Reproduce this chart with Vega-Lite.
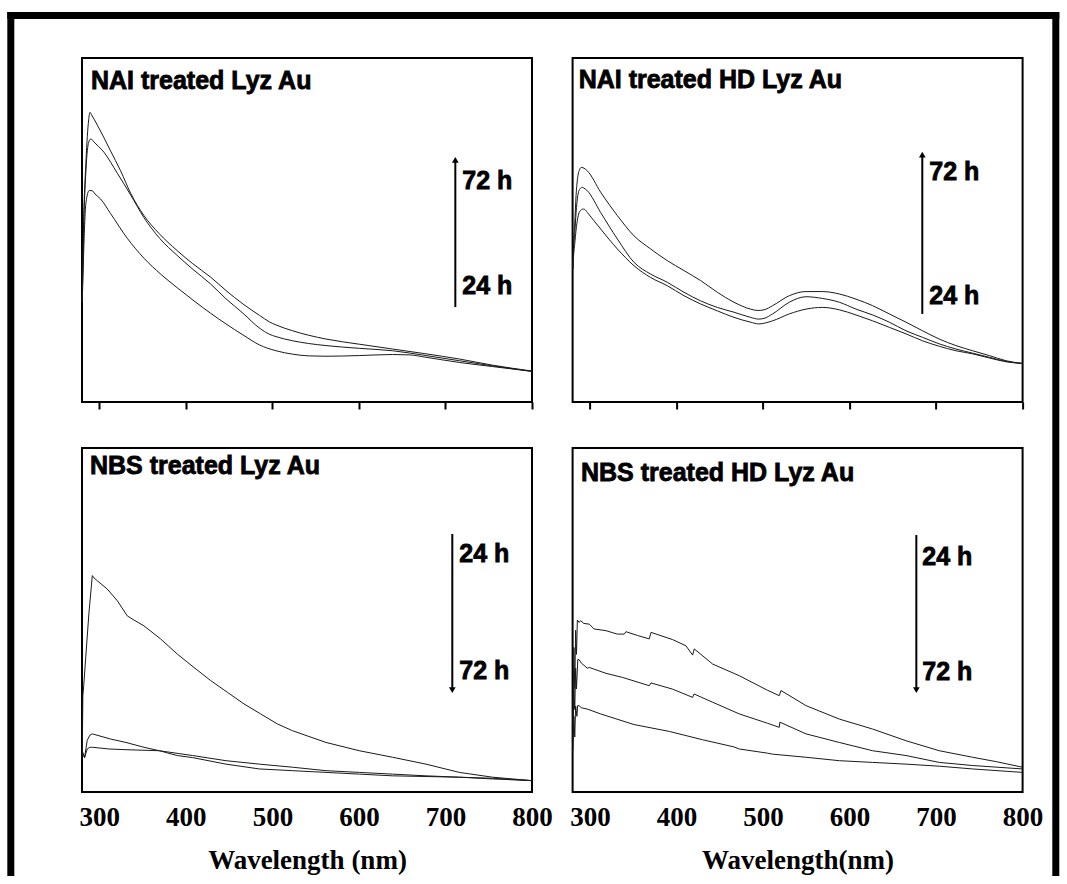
{
  "$schema": "https://vega.github.io/schema/vega-lite/v6.json",
  "background": "white",
  "padding": {"left": 2, "top": 7, "right": 0, "bottom": 0},
  "autosize": {"type": "pad"},
  "config": {
    "view": {"stroke": "black", "strokeWidth": 2},
    "axis": {"grid": false, "domain": false, "labelFlush": false, "labelOverlap": false},
    "text": {"font": "Liberation Sans", "fontWeight": "bold", "fontSize": 25, "color": "black", "stroke": "black", "strokeWidth": 0.8}
  },
  "datasets": {
    "p1": [
      {"wl":280.3,"a":0.29,"t":"72 h"},{"wl":281.5,"a":0.48,"t":"72 h"},{"wl":284.6,"a":0.70,"t":"72 h"},{"wl":287.7,"a":0.82,"t":"72 h"},{"wl":289.2,"a":0.842,"t":"72 h"},{"wl":291,"a":0.835,"t":"72 h"},{"wl":297.7,"a":0.805,"t":"72 h"},{"wl":305,"a":0.77,"t":"72 h"},{"wl":313,"a":0.73,"t":"72 h"},{"wl":324.6,"a":0.672,"t":"72 h"},{"wl":336.2,"a":0.607,"t":"72 h"},{"wl":351.6,"a":0.542,"t":"72 h"},{"wl":369,"a":0.49,"t":"72 h"},{"wl":390,"a":0.44,"t":"72 h"},{"wl":408,"a":0.402,"t":"72 h"},{"wl":428.6,"a":0.363,"t":"72 h"},{"wl":446.4,"a":0.324,"t":"72 h"},{"wl":466,"a":0.285,"t":"72 h"},{"wl":485,"a":0.252,"t":"72 h"},{"wl":496.5,"a":0.233,"t":"72 h"},{"wl":504.2,"a":0.224,"t":"72 h"},{"wl":523.4,"a":0.207,"t":"72 h"},{"wl":542,"a":0.194,"t":"72 h"},{"wl":562,"a":0.183,"t":"72 h"},{"wl":600.4,"a":0.168,"t":"72 h"},{"wl":638.9,"a":0.154,"t":"72 h"},{"wl":677.5,"a":0.14,"t":"72 h"},{"wl":716,"a":0.125,"t":"72 h"},{"wl":754.5,"a":0.107,"t":"72 h"},{"wl":800,"a":0.09,"t":"72 h"},
      {"wl":280.3,"a":0.29,"t":"48 h"},{"wl":281.5,"a":0.46,"t":"48 h"},{"wl":284.6,"a":0.675,"t":"48 h"},{"wl":287.7,"a":0.755,"t":"48 h"},{"wl":290.4,"a":0.765,"t":"48 h"},{"wl":293,"a":0.758,"t":"48 h"},{"wl":305.4,"a":0.726,"t":"48 h"},{"wl":320.8,"a":0.665,"t":"48 h"},{"wl":336.2,"a":0.602,"t":"48 h"},{"wl":351.6,"a":0.536,"t":"48 h"},{"wl":370,"a":0.475,"t":"48 h"},{"wl":390,"a":0.426,"t":"48 h"},{"wl":408,"a":0.386,"t":"48 h"},{"wl":428.6,"a":0.343,"t":"48 h"},{"wl":446.4,"a":0.3,"t":"48 h"},{"wl":466,"a":0.258,"t":"48 h"},{"wl":485,"a":0.215,"t":"48 h"},{"wl":496.5,"a":0.197,"t":"48 h"},{"wl":504.2,"a":0.19,"t":"48 h"},{"wl":523.4,"a":0.178,"t":"48 h"},{"wl":542,"a":0.17,"t":"48 h"},{"wl":562,"a":0.164,"t":"48 h"},{"wl":600.4,"a":0.156,"t":"48 h"},{"wl":638.9,"a":0.149,"t":"48 h"},{"wl":677.5,"a":0.135,"t":"48 h"},{"wl":716,"a":0.12,"t":"48 h"},{"wl":754.5,"a":0.105,"t":"48 h"},{"wl":800,"a":0.089,"t":"48 h"},
      {"wl":280.3,"a":0.29,"t":"24 h"},{"wl":281.5,"a":0.4,"t":"24 h"},{"wl":284.6,"a":0.58,"t":"24 h"},{"wl":288.5,"a":0.615,"t":"24 h"},{"wl":291.9,"a":0.614,"t":"24 h"},{"wl":295,"a":0.605,"t":"24 h"},{"wl":301.5,"a":0.59,"t":"24 h"},{"wl":313,"a":0.548,"t":"24 h"},{"wl":332.3,"a":0.476,"t":"24 h"},{"wl":351.6,"a":0.418,"t":"24 h"},{"wl":370.8,"a":0.372,"t":"24 h"},{"wl":390.1,"a":0.332,"t":"24 h"},{"wl":409.4,"a":0.294,"t":"24 h"},{"wl":428.6,"a":0.258,"t":"24 h"},{"wl":446.4,"a":0.227,"t":"24 h"},{"wl":466,"a":0.195,"t":"24 h"},{"wl":485,"a":0.166,"t":"24 h"},{"wl":504.2,"a":0.149,"t":"24 h"},{"wl":523.4,"a":0.139,"t":"24 h"},{"wl":542.7,"a":0.134,"t":"24 h"},{"wl":562,"a":0.133,"t":"24 h"},{"wl":600.4,"a":0.135,"t":"24 h"},{"wl":638.9,"a":0.138,"t":"24 h"},{"wl":658.2,"a":0.137,"t":"24 h"},{"wl":677.5,"a":0.13,"t":"24 h"},{"wl":716,"a":0.115,"t":"24 h"},{"wl":754.5,"a":0.103,"t":"24 h"},{"wl":800,"a":0.089,"t":"24 h"}
    ],
    "p2": [
      {"wl":280.3,"a":0.387,"t":"72 h"},{"wl":281,"a":0.46,"t":"72 h"},{"wl":282.5,"a":0.52,"t":"72 h"},{"wl":284,"a":0.6,"t":"72 h"},{"wl":286,"a":0.655,"t":"72 h"},{"wl":288,"a":0.675,"t":"72 h"},{"wl":290.1,"a":0.682,"t":"72 h"},{"wl":292,"a":0.681,"t":"72 h"},{"wl":297,"a":0.672,"t":"72 h"},{"wl":312.4,"a":0.61,"t":"72 h"},{"wl":331.7,"a":0.542,"t":"72 h"},{"wl":351,"a":0.483,"t":"72 h"},{"wl":370.1,"a":0.445,"t":"72 h"},{"wl":389.4,"a":0.411,"t":"72 h"},{"wl":408.7,"a":0.382,"t":"72 h"},{"wl":427.9,"a":0.353,"t":"72 h"},{"wl":447.2,"a":0.319,"t":"72 h"},{"wl":466.5,"a":0.29,"t":"72 h"},{"wl":485.7,"a":0.27,"t":"72 h"},{"wl":494,"a":0.266,"t":"72 h"},{"wl":501.2,"a":0.268,"t":"72 h"},{"wl":511.1,"a":0.28,"t":"72 h"},{"wl":530.4,"a":0.309,"t":"72 h"},{"wl":549.7,"a":0.321,"t":"72 h"},{"wl":568.9,"a":0.321,"t":"72 h"},{"wl":588.2,"a":0.314,"t":"72 h"},{"wl":607.5,"a":0.299,"t":"72 h"},{"wl":626.7,"a":0.28,"t":"72 h"},{"wl":646,"a":0.256,"t":"72 h"},{"wl":665.3,"a":0.232,"t":"72 h"},{"wl":684.4,"a":0.207,"t":"72 h"},{"wl":703.7,"a":0.183,"t":"72 h"},{"wl":723,"a":0.164,"t":"72 h"},{"wl":742.2,"a":0.149,"t":"72 h"},{"wl":761.5,"a":0.135,"t":"72 h"},{"wl":780.8,"a":0.12,"t":"72 h"},{"wl":800,"a":0.112,"t":"72 h"},
      {"wl":280.3,"a":0.387,"t":"48 h"},{"wl":281,"a":0.44,"t":"48 h"},{"wl":282.5,"a":0.49,"t":"48 h"},{"wl":284,"a":0.55,"t":"48 h"},{"wl":286,"a":0.6,"t":"48 h"},{"wl":288,"a":0.618,"t":"48 h"},{"wl":291.2,"a":0.624,"t":"48 h"},{"wl":293,"a":0.622,"t":"48 h"},{"wl":297,"a":0.614,"t":"48 h"},{"wl":312.4,"a":0.551,"t":"48 h"},{"wl":331.7,"a":0.474,"t":"48 h"},{"wl":351,"a":0.406,"t":"48 h"},{"wl":370.1,"a":0.372,"t":"48 h"},{"wl":389.4,"a":0.348,"t":"48 h"},{"wl":408.7,"a":0.319,"t":"48 h"},{"wl":427.9,"a":0.294,"t":"48 h"},{"wl":447.2,"a":0.275,"t":"48 h"},{"wl":466.5,"a":0.261,"t":"48 h"},{"wl":485.7,"a":0.246,"t":"48 h"},{"wl":495,"a":0.241,"t":"48 h"},{"wl":501.2,"a":0.243,"t":"48 h"},{"wl":511.1,"a":0.256,"t":"48 h"},{"wl":530.4,"a":0.29,"t":"48 h"},{"wl":549.7,"a":0.306,"t":"48 h"},{"wl":568.9,"a":0.301,"t":"48 h"},{"wl":588.2,"a":0.29,"t":"48 h"},{"wl":607.5,"a":0.27,"t":"48 h"},{"wl":626.7,"a":0.253,"t":"48 h"},{"wl":646,"a":0.232,"t":"48 h"},{"wl":665.3,"a":0.207,"t":"48 h"},{"wl":684.4,"a":0.188,"t":"48 h"},{"wl":703.7,"a":0.169,"t":"48 h"},{"wl":723,"a":0.154,"t":"48 h"},{"wl":742.2,"a":0.142,"t":"48 h"},{"wl":761.5,"a":0.13,"t":"48 h"},{"wl":780.8,"a":0.118,"t":"48 h"},{"wl":800,"a":0.112,"t":"48 h"},
      {"wl":280.3,"a":0.387,"t":"24 h"},{"wl":281,"a":0.42,"t":"24 h"},{"wl":282.5,"a":0.46,"t":"24 h"},{"wl":284,"a":0.5,"t":"24 h"},{"wl":286,"a":0.535,"t":"24 h"},{"wl":288,"a":0.553,"t":"24 h"},{"wl":292.4,"a":0.561,"t":"24 h"},{"wl":294,"a":0.56,"t":"24 h"},{"wl":297,"a":0.551,"t":"24 h"},{"wl":312.4,"a":0.503,"t":"24 h"},{"wl":331.7,"a":0.445,"t":"24 h"},{"wl":351,"a":0.396,"t":"24 h"},{"wl":370.1,"a":0.362,"t":"24 h"},{"wl":389.4,"a":0.338,"t":"24 h"},{"wl":408.7,"a":0.309,"t":"24 h"},{"wl":427.9,"a":0.285,"t":"24 h"},{"wl":447.2,"a":0.265,"t":"24 h"},{"wl":466.5,"a":0.246,"t":"24 h"},{"wl":485.7,"a":0.232,"t":"24 h"},{"wl":495,"a":0.227,"t":"24 h"},{"wl":511.1,"a":0.236,"t":"24 h"},{"wl":530.4,"a":0.256,"t":"24 h"},{"wl":549.7,"a":0.27,"t":"24 h"},{"wl":568.9,"a":0.275,"t":"24 h"},{"wl":588.2,"a":0.268,"t":"24 h"},{"wl":607.5,"a":0.253,"t":"24 h"},{"wl":626.7,"a":0.236,"t":"24 h"},{"wl":646,"a":0.217,"t":"24 h"},{"wl":665.3,"a":0.198,"t":"24 h"},{"wl":684.4,"a":0.178,"t":"24 h"},{"wl":703.7,"a":0.162,"t":"24 h"},{"wl":723,"a":0.149,"t":"24 h"},{"wl":742.2,"a":0.14,"t":"24 h"},{"wl":761.5,"a":0.128,"t":"24 h"},{"wl":780.8,"a":0.117,"t":"24 h"},{"wl":800,"a":0.112,"t":"24 h"}
    ],
    "p3": [
      {"wl":280.3,"a":0.1,"t":"24 h"},{"wl":281,"a":0.28,"t":"24 h"},{"wl":282,"a":0.31,"t":"24 h"},{"wl":284.2,"a":0.387,"t":"24 h"},{"wl":288,"a":0.52,"t":"24 h"},{"wl":291.9,"a":0.629,"t":"24 h"},{"wl":294,"a":0.622,"t":"24 h"},{"wl":297.7,"a":0.614,"t":"24 h"},{"wl":309.2,"a":0.59,"t":"24 h"},{"wl":320.8,"a":0.556,"t":"24 h"},{"wl":332.3,"a":0.512,"t":"24 h"},{"wl":340,"a":0.5,"t":"24 h"},{"wl":351.6,"a":0.483,"t":"24 h"},{"wl":370.8,"a":0.445,"t":"24 h"},{"wl":390.1,"a":0.401,"t":"24 h"},{"wl":409.4,"a":0.362,"t":"24 h"},{"wl":428.6,"a":0.324,"t":"24 h"},{"wl":447.9,"a":0.29,"t":"24 h"},{"wl":467.2,"a":0.256,"t":"24 h"},{"wl":486.4,"a":0.227,"t":"24 h"},{"wl":505.7,"a":0.198,"t":"24 h"},{"wl":523.4,"a":0.178,"t":"24 h"},{"wl":562,"a":0.144,"t":"24 h"},{"wl":600.4,"a":0.12,"t":"24 h"},{"wl":638.9,"a":0.101,"t":"24 h"},{"wl":677.5,"a":0.081,"t":"24 h"},{"wl":716,"a":0.057,"t":"24 h"},{"wl":754.5,"a":0.043,"t":"24 h"},{"wl":800,"a":0.033,"t":"24 h"},
      {"wl":280.3,"a":0.12,"t":"48 h"},{"wl":283,"a":0.1,"t":"48 h"},{"wl":286,"a":0.15,"t":"48 h"},{"wl":289,"a":0.165,"t":"48 h"},{"wl":291.9,"a":0.169,"t":"48 h"},{"wl":313,"a":0.154,"t":"48 h"},{"wl":330.8,"a":0.144,"t":"48 h"},{"wl":351.6,"a":0.13,"t":"48 h"},{"wl":369.3,"a":0.12,"t":"48 h"},{"wl":390.1,"a":0.106,"t":"48 h"},{"wl":407.8,"a":0.1,"t":"48 h"},{"wl":446.4,"a":0.081,"t":"48 h"},{"wl":484.9,"a":0.067,"t":"48 h"},{"wl":523.4,"a":0.062,"t":"48 h"},{"wl":562,"a":0.057,"t":"48 h"},{"wl":600.4,"a":0.052,"t":"48 h"},{"wl":638.9,"a":0.047,"t":"48 h"},{"wl":677.5,"a":0.045,"t":"48 h"},{"wl":716,"a":0.043,"t":"48 h"},{"wl":754.5,"a":0.04,"t":"48 h"},{"wl":800,"a":0.033,"t":"48 h"},
      {"wl":280.3,"a":0.11,"t":"72 h"},{"wl":283,"a":0.1,"t":"72 h"},{"wl":286,"a":0.125,"t":"72 h"},{"wl":289,"a":0.13,"t":"72 h"},{"wl":291.9,"a":0.13,"t":"72 h"},{"wl":311.5,"a":0.125,"t":"72 h"},{"wl":330.8,"a":0.123,"t":"72 h"},{"wl":369.3,"a":0.12,"t":"72 h"},{"wl":407.8,"a":0.106,"t":"72 h"},{"wl":446.4,"a":0.091,"t":"72 h"},{"wl":484.9,"a":0.081,"t":"72 h"},{"wl":523.4,"a":0.072,"t":"72 h"},{"wl":562,"a":0.062,"t":"72 h"},{"wl":600.4,"a":0.057,"t":"72 h"},{"wl":638.9,"a":0.052,"t":"72 h"},{"wl":677.5,"a":0.047,"t":"72 h"},{"wl":716,"a":0.043,"t":"72 h"},{"wl":754.5,"a":0.038,"t":"72 h"},{"wl":800,"a":0.033,"t":"72 h"}
    ],
    "p4": [
      {"wl":280.3,"a":0.2,"t":"24 h"},{"wl":281.5,"a":0.42,"t":"24 h"},{"wl":282.5,"a":0.3,"t":"24 h"},{"wl":283.5,"a":0.47,"t":"24 h"},{"wl":284.5,"a":0.4,"t":"24 h"},{"wl":285.5,"a":0.5,"t":"24 h"},{"wl":287.7,"a":0.493,"t":"24 h"},{"wl":289.2,"a":0.498,"t":"24 h"},{"wl":293,"a":0.49,"t":"24 h"},{"wl":299.3,"a":0.488,"t":"24 h"},{"wl":304.7,"a":0.474,"t":"24 h"},{"wl":318.6,"a":0.469,"t":"24 h"},{"wl":331.7,"a":0.459,"t":"24 h"},{"wl":339.7,"a":0.459,"t":"24 h"},{"wl":341.7,"a":0.466,"t":"24 h"},{"wl":355,"a":0.455,"t":"24 h"},{"wl":368.6,"a":0.445,"t":"24 h"},{"wl":370.6,"a":0.464,"t":"24 h"},{"wl":395.6,"a":0.443,"t":"24 h"},{"wl":411,"a":0.425,"t":"24 h"},{"wl":418.7,"a":0.398,"t":"24 h"},{"wl":420.6,"a":0.416,"t":"24 h"},{"wl":441.8,"a":0.372,"t":"24 h"},{"wl":472.6,"a":0.338,"t":"24 h"},{"wl":505,"a":0.296,"t":"24 h"},{"wl":518.8,"a":0.28,"t":"24 h"},{"wl":520.8,"a":0.295,"t":"24 h"},{"wl":549.7,"a":0.251,"t":"24 h"},{"wl":588.2,"a":0.212,"t":"24 h"},{"wl":626.7,"a":0.183,"t":"24 h"},{"wl":665.3,"a":0.149,"t":"24 h"},{"wl":703.7,"a":0.12,"t":"24 h"},{"wl":742.2,"a":0.101,"t":"24 h"},{"wl":770,"a":0.088,"t":"24 h"},{"wl":800,"a":0.072,"t":"24 h"},
      {"wl":280.3,"a":0.15,"t":"48 h"},{"wl":281.5,"a":0.3,"t":"48 h"},{"wl":282.5,"a":0.24,"t":"48 h"},{"wl":283.5,"a":0.36,"t":"48 h"},{"wl":284.5,"a":0.3,"t":"48 h"},{"wl":286,"a":0.385,"t":"48 h"},{"wl":287.4,"a":0.385,"t":"48 h"},{"wl":290,"a":0.375,"t":"48 h"},{"wl":297,"a":0.36,"t":"48 h"},{"wl":299.3,"a":0.362,"t":"48 h"},{"wl":318.6,"a":0.345,"t":"48 h"},{"wl":337.8,"a":0.333,"t":"48 h"},{"wl":368.6,"a":0.309,"t":"48 h"},{"wl":370.6,"a":0.317,"t":"48 h"},{"wl":395.6,"a":0.299,"t":"48 h"},{"wl":418.7,"a":0.275,"t":"48 h"},{"wl":420.3,"a":0.285,"t":"48 h"},{"wl":441.8,"a":0.261,"t":"48 h"},{"wl":472.6,"a":0.227,"t":"48 h"},{"wl":505,"a":0.2,"t":"48 h"},{"wl":518.8,"a":0.188,"t":"48 h"},{"wl":519.5,"a":0.203,"t":"48 h"},{"wl":549.7,"a":0.169,"t":"48 h"},{"wl":588.2,"a":0.144,"t":"48 h"},{"wl":626.7,"a":0.12,"t":"48 h"},{"wl":665.3,"a":0.106,"t":"48 h"},{"wl":703.7,"a":0.086,"t":"48 h"},{"wl":742.2,"a":0.077,"t":"48 h"},{"wl":800,"a":0.067,"t":"48 h"},
      {"wl":280.3,"a":0.12,"t":"72 h"},{"wl":281.5,"a":0.22,"t":"72 h"},{"wl":282.5,"a":0.16,"t":"72 h"},{"wl":283.5,"a":0.25,"t":"72 h"},{"wl":285,"a":0.22,"t":"72 h"},{"wl":285.8,"a":0.251,"t":"72 h"},{"wl":287.4,"a":0.251,"t":"72 h"},{"wl":290,"a":0.245,"t":"72 h"},{"wl":297,"a":0.241,"t":"72 h"},{"wl":312.4,"a":0.227,"t":"72 h"},{"wl":318.6,"a":0.222,"t":"72 h"},{"wl":351,"a":0.196,"t":"72 h"},{"wl":392,"a":0.176,"t":"72 h"},{"wl":430,"a":0.152,"t":"72 h"},{"wl":466.5,"a":0.131,"t":"72 h"},{"wl":472.6,"a":0.125,"t":"72 h"},{"wl":505,"a":0.113,"t":"72 h"},{"wl":511.1,"a":0.11,"t":"72 h"},{"wl":549.7,"a":0.101,"t":"72 h"},{"wl":588.2,"a":0.091,"t":"72 h"},{"wl":626.7,"a":0.086,"t":"72 h"},{"wl":665.3,"a":0.081,"t":"72 h"},{"wl":703.7,"a":0.075,"t":"72 h"},{"wl":742.2,"a":0.067,"t":"72 h"},{"wl":800,"a":0.057,"t":"72 h"}
    ]
  },
  "columns": 2,
  "spacing": {"row": 46, "column": 40.6},
  "bounds": "flush",
  "concat": [
    {
      "width": 450, "height": 344,
      "layer": [
        {"data": {"name": "p1"}, "mark": {"type": "line", "stroke": "#1a1a1a", "strokeWidth": 1, "interpolate": "monotone"},
         "encoding": {
           "x": {"field": "wl", "type": "quantitative", "scale": {"domain": [280, 800], "nice": false, "zero": false},
                 "axis": {"values": [300,400,500,600,700,800], "labels": false, "ticks": true, "tickSize": 7, "tickWidth": 2, "tickColor": "black", "title": null}},
           "y": {"field": "a", "type": "quantitative", "scale": {"domain": [0, 1], "nice": false, "zero": false}, "axis": null},
           "detail": {"field": "t"}}},
        {"data": {"values": [{"label": "NAI treated Lyz Au"}]}, "mark": {"type": "text", "align": "left", "baseline": "alphabetic"},
         "encoding": {"text": {"field": "label"},
           "x": {"datum": 290.4, "type": "quantitative", "scale": {"domain": [280, 800], "nice": false, "zero": false}},
           "y": {"datum": 0.91, "type": "quantitative", "scale": {"domain": [0, 1], "nice": false, "zero": false}}}},
        {"data": {"values": [{"label": "72 h"}]}, "mark": {"type": "text", "align": "left", "baseline": "middle"},
         "encoding": {"text": {"field": "label"},
           "x": {"datum": 719.4, "type": "quantitative", "scale": {"domain": [280, 800], "nice": false, "zero": false}},
           "y": {"datum": 0.642, "type": "quantitative", "scale": {"domain": [0, 1], "nice": false, "zero": false}}}},
        {"data": {"values": [{"label": "24 h"}]}, "mark": {"type": "text", "align": "left", "baseline": "middle"},
         "encoding": {"text": {"field": "label"},
           "x": {"datum": 719.4, "type": "quantitative", "scale": {"domain": [280, 800], "nice": false, "zero": false}},
           "y": {"datum": 0.337, "type": "quantitative", "scale": {"domain": [0, 1], "nice": false, "zero": false}}}},
        {"data": {"values": [{}]}, "mark": {"type": "rule", "color": "black", "strokeWidth": 2},
         "encoding": {
           "x": {"datum": 711.4, "type": "quantitative", "scale": {"domain": [280, 800], "nice": false, "zero": false}},
           "y": {"datum": 0.276, "type": "quantitative", "scale": {"domain": [0, 1], "nice": false, "zero": false}},
           "y2": {"datum": 0.704}}},
        {"data": {"values": [{}]}, "mark": {"type": "point", "shape": "triangle-up", "filled": true, "color": "black", "size": 45, "opacity": 1},
         "encoding": {
           "x": {"datum": 711.4, "type": "quantitative", "scale": {"domain": [280, 800], "nice": false, "zero": false}},
           "y": {"datum": 0.704, "type": "quantitative", "scale": {"domain": [0, 1], "nice": false, "zero": false}}}},
        {"data": {"values": [{}]}, "mark": {"type": "rule", "color": "black", "strokeWidth": 7},
         "encoding": {
           "x": {"datum": 193.68, "type": "quantitative", "scale": {"domain": [280, 800], "nice": false, "zero": false}},
           "x2": {"datum": 1409.32},
           "y": {"datum": 1.12355, "type": "quantitative", "scale": {"domain": [0, 1], "nice": false, "zero": false}}}},
        {"data": {"values": [{}]}, "mark": {"type": "rule", "color": "black", "strokeWidth": 7},
         "encoding": {
           "x": {"datum": 197.73, "type": "quantitative", "scale": {"domain": [280, 800], "nice": false, "zero": false}},
           "y": {"datum": 1.13372, "type": "quantitative", "scale": {"domain": [0, 1], "nice": false, "zero": false}},
           "y2": {"datum": -1.37791}}},
        {"data": {"values": [{}]}, "mark": {"type": "rule", "color": "black", "strokeWidth": 7},
         "encoding": {
           "x": {"datum": 1405.28, "type": "quantitative", "scale": {"domain": [280, 800], "nice": false, "zero": false}},
           "y": {"datum": 1.13372, "type": "quantitative", "scale": {"domain": [0, 1], "nice": false, "zero": false}},
           "y2": {"datum": -1.37791}}}
      ]
    },
    {
      "width": 450, "height": 344,
      "layer": [
        {"data": {"name": "p2"}, "mark": {"type": "line", "stroke": "#1a1a1a", "strokeWidth": 1, "interpolate": "monotone"},
         "encoding": {
           "x": {"field": "wl", "type": "quantitative", "scale": {"domain": [280, 800], "nice": false, "zero": false},
                 "axis": {"values": [300,400,500,600,700,800], "labels": false, "ticks": true, "tickSize": 7, "tickWidth": 2, "tickColor": "black", "title": null}},
           "y": {"field": "a", "type": "quantitative", "scale": {"domain": [0, 1], "nice": false, "zero": false}, "axis": null},
           "detail": {"field": "t"}}},
        {"data": {"values": [{"label": "NAI treated HD Lyz Au"}]}, "mark": {"type": "text", "align": "left", "baseline": "alphabetic"},
         "encoding": {"text": {"field": "label"},
           "x": {"datum": 287, "type": "quantitative", "scale": {"domain": [280, 800], "nice": false, "zero": false}},
           "y": {"datum": 0.913, "type": "quantitative", "scale": {"domain": [0, 1], "nice": false, "zero": false}}}},
        {"data": {"values": [{"label": "72 h"}]}, "mark": {"type": "text", "align": "left", "baseline": "middle"},
         "encoding": {"text": {"field": "label"},
           "x": {"datum": 692.2, "type": "quantitative", "scale": {"domain": [280, 800], "nice": false, "zero": false}},
           "y": {"datum": 0.669, "type": "quantitative", "scale": {"domain": [0, 1], "nice": false, "zero": false}}}},
        {"data": {"values": [{"label": "24 h"}]}, "mark": {"type": "text", "align": "left", "baseline": "middle"},
         "encoding": {"text": {"field": "label"},
           "x": {"datum": 692.2, "type": "quantitative", "scale": {"domain": [280, 800], "nice": false, "zero": false}},
           "y": {"datum": 0.308, "type": "quantitative", "scale": {"domain": [0, 1], "nice": false, "zero": false}}}},
        {"data": {"values": [{}]}, "mark": {"type": "rule", "color": "black", "strokeWidth": 2},
         "encoding": {
           "x": {"datum": 684.1, "type": "quantitative", "scale": {"domain": [280, 800], "nice": false, "zero": false}},
           "y": {"datum": 0.256, "type": "quantitative", "scale": {"domain": [0, 1], "nice": false, "zero": false}},
           "y2": {"datum": 0.719}}},
        {"data": {"values": [{}]}, "mark": {"type": "point", "shape": "triangle-up", "filled": true, "color": "black", "size": 45, "opacity": 1},
         "encoding": {
           "x": {"datum": 684.1, "type": "quantitative", "scale": {"domain": [280, 800], "nice": false, "zero": false}},
           "y": {"datum": 0.719, "type": "quantitative", "scale": {"domain": [0, 1], "nice": false, "zero": false}}}}
      ]
    },
    {
      "width": 450, "height": 344,
      "layer": [
        {"data": {"name": "p3"}, "mark": {"type": "line", "stroke": "#1a1a1a", "strokeWidth": 1},
         "encoding": {
           "x": {"field": "wl", "type": "quantitative", "scale": {"domain": [280, 800], "nice": false, "zero": false},
                 "axis": {"values": [300,400,500,600,700,800], "labels": true, "ticks": false, "labelFont": "Liberation Serif", "labelFontWeight": "bold", "labelFontSize": 27, "labelColor": "black", "labelPadding": 12,
                          "title": "Wavelength (nm)", "titleFont": "Liberation Serif", "titleFontWeight": "bold", "titleFontSize": 27, "titleColor": "black", "titlePadding": 17}},
           "y": {"field": "a", "type": "quantitative", "scale": {"domain": [0, 1], "nice": false, "zero": false}, "axis": null},
           "detail": {"field": "t"}}},
        {"data": {"values": [{"label": "NBS treated Lyz Au"}]}, "mark": {"type": "text", "align": "left", "baseline": "alphabetic"},
         "encoding": {"text": {"field": "label"},
           "x": {"datum": 289.2, "type": "quantitative", "scale": {"domain": [280, 800], "nice": false, "zero": false}},
           "y": {"datum": 0.924, "type": "quantitative", "scale": {"domain": [0, 1], "nice": false, "zero": false}}}},
        {"data": {"values": [{"label": "24 h"}]}, "mark": {"type": "text", "align": "left", "baseline": "middle"},
         "encoding": {"text": {"field": "label"},
           "x": {"datum": 716, "type": "quantitative", "scale": {"domain": [280, 800], "nice": false, "zero": false}},
           "y": {"datum": 0.692, "type": "quantitative", "scale": {"domain": [0, 1], "nice": false, "zero": false}}}},
        {"data": {"values": [{"label": "72 h"}]}, "mark": {"type": "text", "align": "left", "baseline": "middle"},
         "encoding": {"text": {"field": "label"},
           "x": {"datum": 716, "type": "quantitative", "scale": {"domain": [280, 800], "nice": false, "zero": false}},
           "y": {"datum": 0.352, "type": "quantitative", "scale": {"domain": [0, 1], "nice": false, "zero": false}}}},
        {"data": {"values": [{}]}, "mark": {"type": "rule", "color": "black", "strokeWidth": 2},
         "encoding": {
           "x": {"datum": 707.9, "type": "quantitative", "scale": {"domain": [280, 800], "nice": false, "zero": false}},
           "y": {"datum": 0.75, "type": "quantitative", "scale": {"domain": [0, 1], "nice": false, "zero": false}},
           "y2": {"datum": 0.296}}},
        {"data": {"values": [{}]}, "mark": {"type": "point", "shape": "triangle-down", "filled": true, "color": "black", "size": 45, "opacity": 1},
         "encoding": {
           "x": {"datum": 707.9, "type": "quantitative", "scale": {"domain": [280, 800], "nice": false, "zero": false}},
           "y": {"datum": 0.296, "type": "quantitative", "scale": {"domain": [0, 1], "nice": false, "zero": false}}}}
      ]
    },
    {
      "width": 450, "height": 344,
      "layer": [
        {"data": {"name": "p4"}, "mark": {"type": "line", "stroke": "#1a1a1a", "strokeWidth": 1},
         "encoding": {
           "x": {"field": "wl", "type": "quantitative", "scale": {"domain": [280, 800], "nice": false, "zero": false},
                 "axis": {"values": [300,400,500,600,700,800], "labels": true, "ticks": false, "labelFont": "Liberation Serif", "labelFontWeight": "bold", "labelFontSize": 27, "labelColor": "black", "labelPadding": 12,
                          "title": "Wavelength(nm)", "titleFont": "Liberation Serif", "titleFontWeight": "bold", "titleFontSize": 27, "titleColor": "black", "titlePadding": 17}},
           "y": {"field": "a", "type": "quantitative", "scale": {"domain": [0, 1], "nice": false, "zero": false}, "axis": null},
           "detail": {"field": "t"}}},
        {"data": {"values": [{"label": "NBS treated HD Lyz Au"}]}, "mark": {"type": "text", "align": "left", "baseline": "alphabetic"},
         "encoding": {"text": {"field": "label"},
           "x": {"datum": 289.7, "type": "quantitative", "scale": {"domain": [280, 800], "nice": false, "zero": false}},
           "y": {"datum": 0.905, "type": "quantitative", "scale": {"domain": [0, 1], "nice": false, "zero": false}}}},
        {"data": {"values": [{"label": "24 h"}]}, "mark": {"type": "text", "align": "left", "baseline": "middle"},
         "encoding": {"text": {"field": "label"},
           "x": {"datum": 684.1, "type": "quantitative", "scale": {"domain": [280, 800], "nice": false, "zero": false}},
           "y": {"datum": 0.683, "type": "quantitative", "scale": {"domain": [0, 1], "nice": false, "zero": false}}}},
        {"data": {"values": [{"label": "72 h"}]}, "mark": {"type": "text", "align": "left", "baseline": "middle"},
         "encoding": {"text": {"field": "label"},
           "x": {"datum": 684.1, "type": "quantitative", "scale": {"domain": [280, 800], "nice": false, "zero": false}},
           "y": {"datum": 0.349, "type": "quantitative", "scale": {"domain": [0, 1], "nice": false, "zero": false}}}},
        {"data": {"values": [{}]}, "mark": {"type": "rule", "color": "black", "strokeWidth": 2},
         "encoding": {
           "x": {"datum": 677.2, "type": "quantitative", "scale": {"domain": [280, 800], "nice": false, "zero": false}},
           "y": {"datum": 0.747, "type": "quantitative", "scale": {"domain": [0, 1], "nice": false, "zero": false}},
           "y2": {"datum": 0.296}}},
        {"data": {"values": [{}]}, "mark": {"type": "point", "shape": "triangle-down", "filled": true, "color": "black", "size": 45, "opacity": 1},
         "encoding": {
           "x": {"datum": 677.2, "type": "quantitative", "scale": {"domain": [280, 800], "nice": false, "zero": false}},
           "y": {"datum": 0.296, "type": "quantitative", "scale": {"domain": [0, 1], "nice": false, "zero": false}}}}
      ]
    }
  ]
}
